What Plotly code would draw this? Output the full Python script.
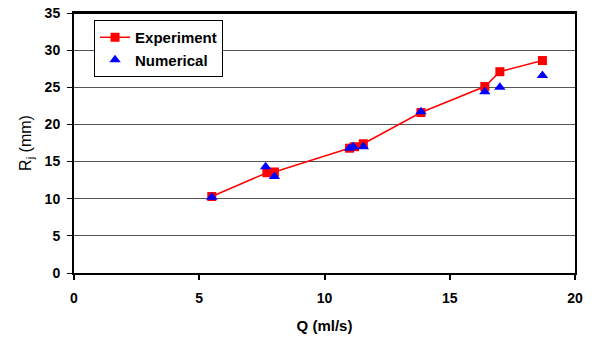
import plotly.graph_objects as go

exp_q = [5.5, 7.7, 8.0, 11.0, 11.2, 11.55, 13.85, 16.4, 17.0, 18.7]
exp_r = [10.3, 13.5, 13.6, 16.8, 17.0, 17.4, 21.6, 25.1, 27.1, 28.6]
num_q = [5.5, 7.65, 8.0, 11.0, 11.15, 11.55, 13.85, 16.4, 17.0, 18.7]
num_r = [10.2, 14.3, 13.0, 16.8, 17.0, 17.0, 21.7, 24.4, 25.0, 26.6]

fig = go.Figure()
fig.add_trace(go.Scatter(
    x=exp_q, y=exp_r, mode="lines+markers", name="Experiment",
    line=dict(color="#FF0000", width=1.5),
    marker=dict(symbol="square", size=9, color="#FF0000"),
))
fig.add_trace(go.Scatter(
    x=num_q, y=num_r, mode="markers", name="Numerical",
    marker=dict(symbol="triangle-up", size=10, color="#0000FF"),
))

font_family = "Liberation Sans, Arial, sans-serif"
fig.update_layout(
    width=594, height=347,
    margin=dict(l=74, r=19, t=13, b=74, autoexpand=False),
    paper_bgcolor="white", plot_bgcolor="white",
    font=dict(family=font_family, color="black"),
    showlegend=True,
    legend=dict(
        x=0.04, y=0.973, xanchor="left", yanchor="top",
        bgcolor="white", bordercolor="black", borderwidth=1,
        font=dict(size=15, family=font_family, weight="bold"),
        tracegroupgap=0,
    ),
    xaxis=dict(
        range=[0, 20], tickvals=[0, 5, 10, 15, 20],
        showgrid=False, zeroline=False, automargin=False,
        showline=True, linecolor="black", linewidth=2, mirror=True,
        ticks="outside", ticklen=5, tickcolor="black", tickwidth=2,
        ticklabelstandoff=6,
        tickfont=dict(size=14, weight="bold"),
        title=dict(text="Q (ml/s)", font=dict(size=15, weight="bold"), standoff=16),
    ),
    yaxis=dict(
        range=[0, 35], tickvals=[0, 5, 10, 15, 20, 25, 30, 35],
        showgrid=True, gridcolor="#555555", gridwidth=1, zeroline=False, automargin=False,
        showline=True, linecolor="black", linewidth=2, mirror=True,
        ticks="outside", ticklen=5, tickcolor="black", tickwidth=1,
        ticklabelstandoff=4,
        tickfont=dict(size=14, weight="bold"),
        title=dict(text="R<sub>j</sub> (mm)", font=dict(size=16), standoff=9),
    ),
    shapes=[dict(type="line", xref="paper", yref="paper", x0=0, x1=1, y0=1, y1=1,
                 line=dict(color="black", width=2))],
)

fig.write_html("out.html", config={"displayModeBar": False},
               post_script="document.body.style.margin='0px';")
